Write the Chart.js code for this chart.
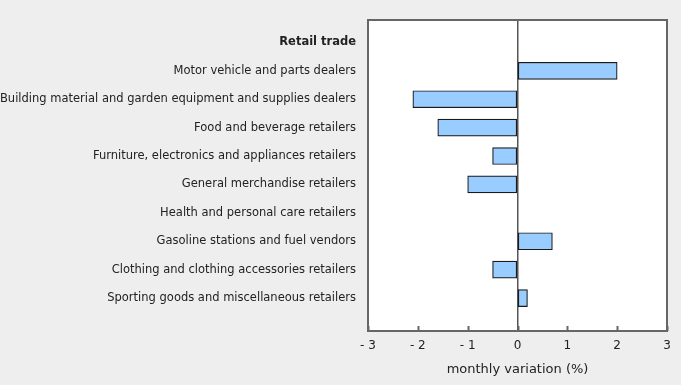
<!DOCTYPE html>
<html>
<head>
<meta charset="utf-8">
<script src="https://cdn.jsdelivr.net/npm/chart.js@4/dist/chart.umd.min.js"></script>
<style>
    html, body { margin: 0; padding: 0; background: #eeeeee; }
    #wrap { width: 681px; height: 385px; }
</style>
</head>
<body>
<div id="wrap"><canvas id="grafico" width="681" height="385"></canvas></div>
<script>
/* Retail trade, monthly variation (%) */

const categorias = [
    "Retail trade",
    "Motor vehicle and parts dealers",
    "Building material and garden equipment and supplies dealers",
    "Food and beverage retailers",
    "Furniture, electronics and appliances retailers",
    "General merchandise retailers",
    "Health and personal care retailers",
    "Gasoline stations and fuel vendors",
    "Clothing and clothing accessories retailers",
    "Sporting goods and miscellaneous retailers"
];

const variacao = [null, 2.0, -2.1, -1.6, -0.5, -1.0, 0, 0.7, -0.5, 0.2];

const ticksX = [-3, -2, -1, 0, 1, 2, 3];

const FONTE = "'DejaVu Sans', Verdana, sans-serif";

// moldura do gráfico + marcas internas no eixo x
const molduraPlugin = {
    id: "moldura",
    afterDatasetsDraw(chart) {
        const { ctx, chartArea } = chart;
        const x = chart.scales.x;

        ctx.save();
        ctx.strokeStyle = "#666666";
        ctx.lineWidth = 2;

        ticksX.forEach(v => {
            const px = Math.round(x.getPixelForValue(v)) + 0.5;
            ctx.beginPath();
            ctx.moveTo(px, chartArea.bottom);
            ctx.lineTo(px, chartArea.bottom - 5);
            ctx.stroke();
        });

        ctx.strokeRect(chartArea.left, chartArea.top, chartArea.right - chartArea.left, chartArea.bottom - chartArea.top);
        ctx.restore();
    }
};

const fundoPlugin = {
    id: "fundo",
    beforeDraw(chart) {
        const { ctx, chartArea } = chart;
        ctx.save();
        ctx.fillStyle = "#eeeeee";
        ctx.fillRect(0, 0, chart.width, chart.height);
        ctx.fillStyle = "#ffffff";
        ctx.fillRect(chartArea.left, chartArea.top, chartArea.right - chartArea.left, chartArea.bottom - chartArea.top);
        ctx.restore();
    }
};

new Chart(document.getElementById("grafico"), {
    type: "bar",
    data: {
        datasets: [{
            label: "monthly variation (%)",
            data: variacao.map((v, i) => ({ x: v, y: i })),
            backgroundColor: "#99ccff",
            borderColor: "#1a1a1a",
            borderWidth: 1.2,
            borderSkipped: false,
            barThickness: 17
        }]
    },
    options: {
        indexAxis: "y",
        responsive: false,
        animation: false,
        layout: { padding: { top: 20, right: 14, left: 0, bottom: 0 } },
        plugins: {
            legend: { display: false },
            tooltip: { enabled: false }
        },
        scales: {
            y: {
                type: "linear",
                reverse: true,
                offset: false,
                min: -0.79,
                max: 10.16,
                afterBuildTicks: scale => {
                    scale.ticks = categorias.map((_, i) => ({ value: i }));
                },
                afterFit: scale => { scale.width = 368; },
                grid: { display: false, drawTicks: false },
                border: { display: false },
                ticks: {
                    padding: 12,
                    color: "#222222",
                    font: ctx => ({
                        family: FONTE,
                        size: 11.5,
                        weight: ctx.tick && ctx.tick.value === 0 ? "bold" : "normal"
                    }),
                    callback: v => categorias[v] ?? ""
                }
            },
            x: {
                type: "linear",
                min: -3,
                max: 3,
                afterBuildTicks: scale => {
                    scale.ticks = ticksX.map(v => ({ value: v }));
                },
                afterFit: scale => { scale.height = 54; },
                grid: {
                    drawTicks: false,
                    color: ctx => ctx.tick && ctx.tick.value === 0 ? "#555555" : "rgba(0,0,0,0)",
                    lineWidth: 1.5
                },
                border: { display: false },
                ticks: {
                    padding: 8,
                    color: "#222222",
                    font: { family: FONTE, size: 12 },
                    callback: v => String(v).replace("-", "- ")
                },
                title: {
                    display: true,
                    text: "monthly variation (%)",
                    color: "#222222",
                    font: { family: FONTE, size: 13 },
                    padding: { top: 6, bottom: 8 }
                }
            }
        }
    },
    plugins: [fundoPlugin, molduraPlugin]
});
</script>
</body>
</html>
